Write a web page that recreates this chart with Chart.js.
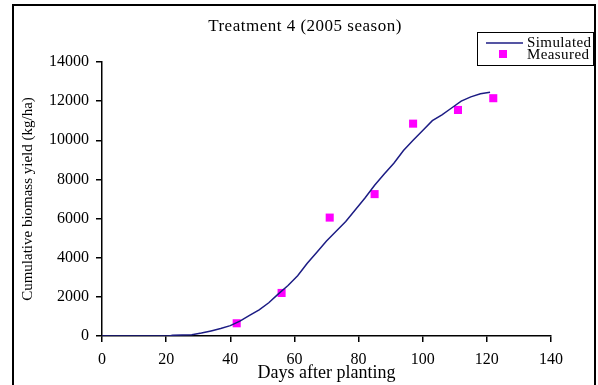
<!DOCTYPE html>
<html>
<head>
<meta charset="utf-8">
<script src="https://cdn.jsdelivr.net/npm/chart.js@4.4.0/dist/chart.umd.min.js"></script>
<style>
  html, body { margin: 0; padding: 0; background: #fff; }
  #wrap { width: 598px; height: 385px; }
</style>
</head>
<body>
<div id="wrap"><canvas id="myChart" width="598" height="385"></canvas></div>
<script>
// simulated curve (days after planting, kg/ha)
const simDays = [0, 5, 10, 15, 20, 21, 22, 25, 28, 31, 34, 37, 40, 43, 46, 49, 52, 55, 58, 61, 64, 67, 70, 73, 76, 79, 82, 85, 88, 91, 94, 97, 100, 103, 106, 109, 112, 115, 118, 121];
const simValues = [0, 0, 0, 0, 0, 0, 40, 50, 60, 150, 260, 380, 530, 760, 1050, 1330, 1700, 2150, 2580, 3080, 3720, 4280, 4850, 5350, 5850, 6450, 7050, 7700, 8280, 8830, 9480, 10000, 10500, 11000, 11300, 11650, 12000, 12220, 12380, 12450];

// measured points
const measDays = [42, 56, 71, 85, 97, 111, 122];
const measValues = [650, 2200, 6050, 7250, 10850, 11550, 12150];

const xTicks = [0, 20, 40, 60, 80, 100, 120, 140];
const yTicks = [0, 2000, 4000, 6000, 8000, 10000, 12000, 14000];

const titleText = "Treatment 4 (2005 season)";
const seriesNames = ["Simulated", "Measured"];

const lineColor = "#1c1c84";
const markColor = "#ff00ff";
const serif = "'Liberation Serif', 'Times New Roman', serif";

// frame, title and legend box
const extras = {
    id: "extras",
    afterDraw(chart) {
        const c = chart.ctx;
        c.save();

        c.strokeStyle = "#000";
        c.lineWidth = 2;
        c.beginPath();
        c.moveTo(13, 385);
        c.lineTo(13, 5);
        c.lineTo(595, 5);
        c.lineTo(595, 385);
        c.stroke();

        c.fillStyle = "#000";
        c.font = "17px " + serif;
        c.letterSpacing = "0.5px";
        c.textAlign = "center";
        c.textBaseline = "middle";
        c.fillText(titleText, 305, 27);
        c.letterSpacing = "0px";

        // legend
        c.lineWidth = 1;
        c.strokeRect(477.5, 32.5, 116, 33);
        c.strokeStyle = lineColor;
        c.lineWidth = 1.5;
        c.beginPath();
        c.moveTo(486, 43);
        c.lineTo(523, 43);
        c.stroke();
        c.fillStyle = markColor;
        c.fillRect(499, 50, 8, 8);
        c.fillStyle = "#000";
        c.font = "15px " + serif;
        c.letterSpacing = "0.4px";
        c.textAlign = "left";
        c.fillText(seriesNames[0], 527, 43);
        c.fillText(seriesNames[1], 527, 55);

        c.restore();
    }
};

const ctx = document.getElementById("myChart");

const biomassChart = new Chart(ctx, {
    type: "scatter",
    data: {
        datasets: [{
            label: seriesNames[0],
            type: "line",
            data: simDays.map((d, i) => ({ x: d, y: simValues[i] })),
            borderColor: lineColor,
            borderWidth: 1.5,
            pointRadius: 0,
            tension: 0,
            fill: false
        }, {
            label: seriesNames[1],
            data: measDays.map((d, i) => ({ x: d, y: measValues[i] })),
            pointStyle: "rect",
            pointRadius: 5.7,
            backgroundColor: markColor,
            borderColor: markColor,
            borderWidth: 0
        }]
    },
    options: {
        responsive: false,
        animation: false,
        devicePixelRatio: 1,
        layout: {
            padding: { left: 0, top: 62, right: 47, bottom: 0 }
        },
        plugins: {
            legend: { display: false },
            title: { display: false },
            tooltip: { enabled: false }
        },
        scales: {
            x: {
                type: "linear",
                min: 0,
                max: 140,
                afterFit: function (scale) { scale.height = 49; },
                afterBuildTicks: function (scale) {
                    scale.ticks = xTicks.map(v => ({ value: v }));
                },
                border: { display: true, color: "#000", width: 1.5 },
                grid: { drawOnChartArea: false, drawTicks: true, tickLength: 6, color: "#000", lineWidth: 1.5 },
                ticks: {
                    color: "#000",
                    padding: 8,
                    maxRotation: 0,
                    font: { family: serif, size: 16 },
                    callback: v => v
                },
                title: {
                    display: true,
                    text: "Days after planting",
                    color: "#000",
                    font: { family: serif, size: 18 },
                    padding: { top: 0, bottom: 1 }
                }
            },
            y: {
                type: "linear",
                min: 0,
                max: 14000,
                afterFit: function (scale) { scale.width = 102; },
                afterBuildTicks: function (scale) {
                    scale.ticks = yTicks.map(v => ({ value: v }));
                },
                border: { display: true, color: "#000", width: 1.5 },
                grid: { drawOnChartArea: false, drawTicks: true, tickLength: 6, color: "#000", lineWidth: 1.5 },
                ticks: {
                    color: "#000",
                    padding: 7,
                    font: { family: serif, size: 16 },
                    callback: v => v
                },
                title: {
                    display: true,
                    text: "Cumulative biomass yield (kg/ha)",
                    color: "#000",
                    font: { family: serif, size: 15 },
                    padding: { top: 19, bottom: 0 }
                }
            }
        }
    },
    plugins: [extras]
});
</script>
</body>
</html>
